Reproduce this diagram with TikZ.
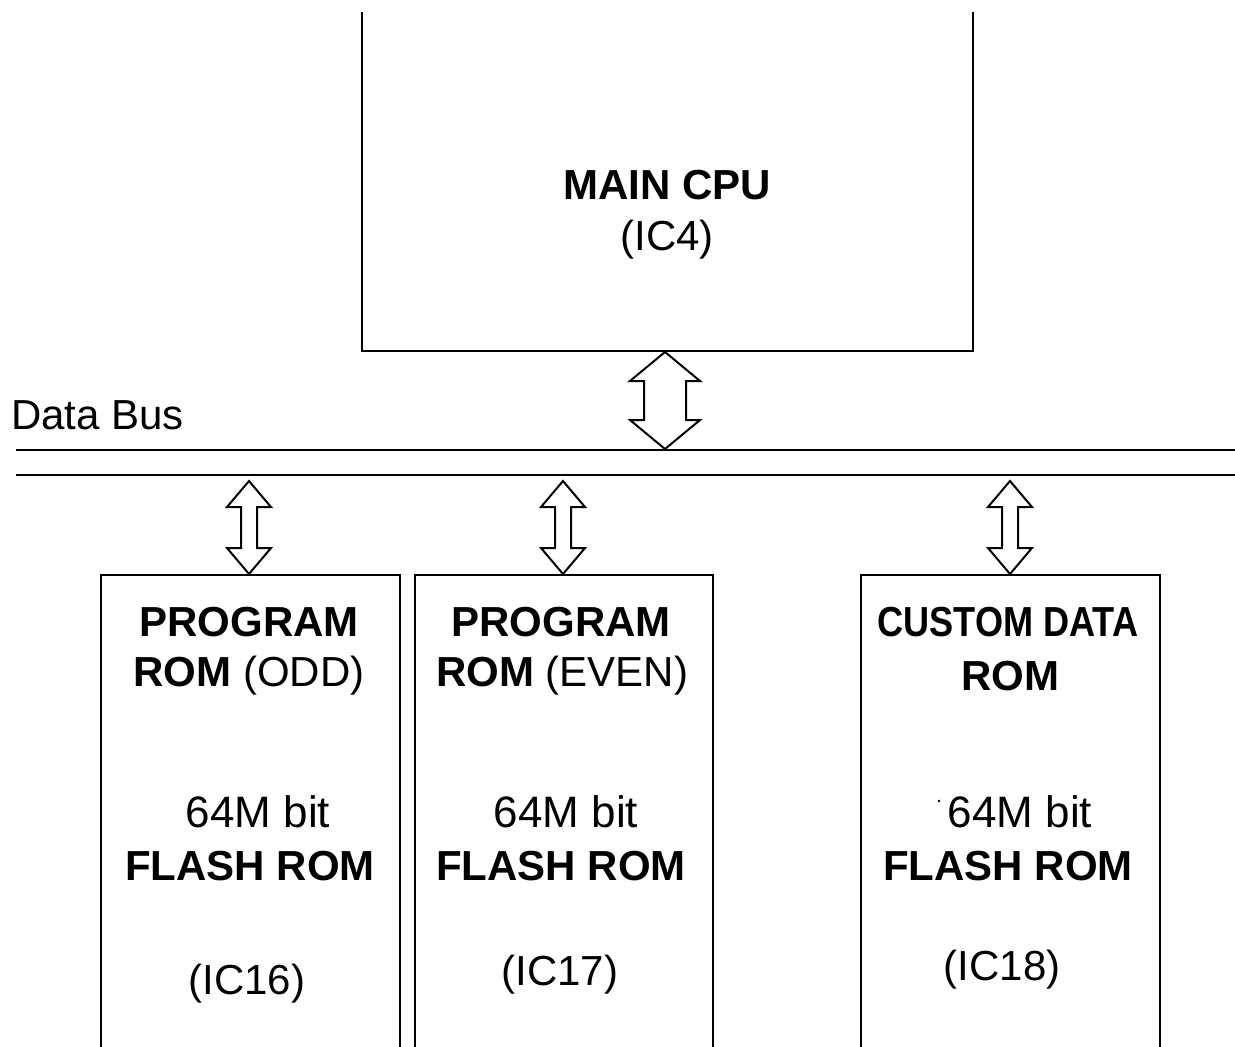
\documentclass[tikz,border=0pt]{standalone}
\usepackage{fontspec}
\setmainfont{Liberation Sans}
\begin{document}
\begin{tikzpicture}[x=1pt,y=-1pt,
  lbl/.style={inner sep=0pt,font=\fontsize{42}{50}\selectfont},
  wlbl/.style={inner sep=0pt,font=\fontsize{44}{50}\selectfont},
  blbl/.style={inner sep=0pt,font=\fontsize{42}{50}\selectfont\bfseries},
  boxline/.style={line width=2.3pt},
  busline/.style={line width=2pt},
  barrow/.style={line width=2pt,fill=white,line join=miter}]
\useasboundingbox (0,0) rectangle (1235,1047);
% CPU box (open top)
\coordinate (cpuTL) at (362,12);
\coordinate (cpuTR) at (973,12);
\draw[line width=2.8pt] (cpuTL) -- (362,351) -- (973,351) -- (cpuTR);
\node[blbl] (cpu) at (667,185) {MAIN CPU};
\node[lbl] (ic4) at (667,240) {(IC4)};
% Data bus
\node[lbl,anchor=west] (dbus) at (11,415) {Data Bus};
\coordinate (busAL) at (16,450); \coordinate (busAR) at (1235,450);
\coordinate (busBL) at (16,475); \coordinate (busBR) at (1235,475);
\draw[busline] (busAL) -- (busAR);
\draw[busline] (busBL) -- (busBR);
% Block double arrow macro: x, ytop, ybot, head half width, shaft half width, head length
\newcommand{\dblarrow}[6]{%
  \draw[barrow] (#1,#2) -- (#1+#4,#2+#6) -- (#1+#5,#2+#6) -- (#1+#5,#3-#6) -- (#1+#4,#3-#6)
    -- (#1,#3) -- (#1-#4,#3-#6) -- (#1-#5,#3-#6) -- (#1-#5,#2+#6) -- (#1-#4,#2+#6) -- cycle;}
\dblarrow{665}{352}{449}{35}{21}{29}
\dblarrow{249}{481}{574}{22}{8}{26}
\dblarrow{563}{481}{574}{22}{8}{26}
\dblarrow{1010}{481}{574}{22}{8}{26}
% ROM boxes (open bottom)
\draw[boxline] (101,1047) -- (101,575) -- (400,575) -- (400,1047);
\draw[boxline] (415,1047) -- (415,575) -- (713,575) -- (713,1047);
\draw[boxline] (861,1047) -- (861,575) -- (1160,575) -- (1160,1047);
% Box 1
\node[blbl] (p1a) at (249,622) {PROGRAM};
\node[lbl] (p1b) at (249,676) {\textbf{ROM} (ODD)};
\node[wlbl] (p1c) at (258,812) {64M bit};
\node[blbl] (p1d) at (250,866) {FLASH ROM};
\node[lbl] (p1e) at (247,984) {(IC16)};
% Box 2
\node[blbl] (p2a) at (561,622) {PROGRAM};
\node[lbl] (p2b) at (562,676) {\textbf{ROM} (EVEN)};
\node[wlbl] (p2c) at (566,812) {64M bit};
\node[blbl] (p2d) at (561,866) {FLASH ROM};
\node[lbl] (p2e) at (560,975) {(IC17)};
% Box 3
\node[blbl] (p3a) at (1008,622) {\scalebox{0.86}[1]{CUSTOM DATA}};
\node[blbl] (p3b) at (1010,676) {ROM};
\node[wlbl] (p3c) at (1020,812) {64M bit};
\fill (939,801) circle (1.3pt);
\node[blbl] (p3d) at (1008,866) {FLASH ROM};
\node[lbl] (p3e) at (1002,970) {(IC18)};
\end{tikzpicture}
\end{document}
